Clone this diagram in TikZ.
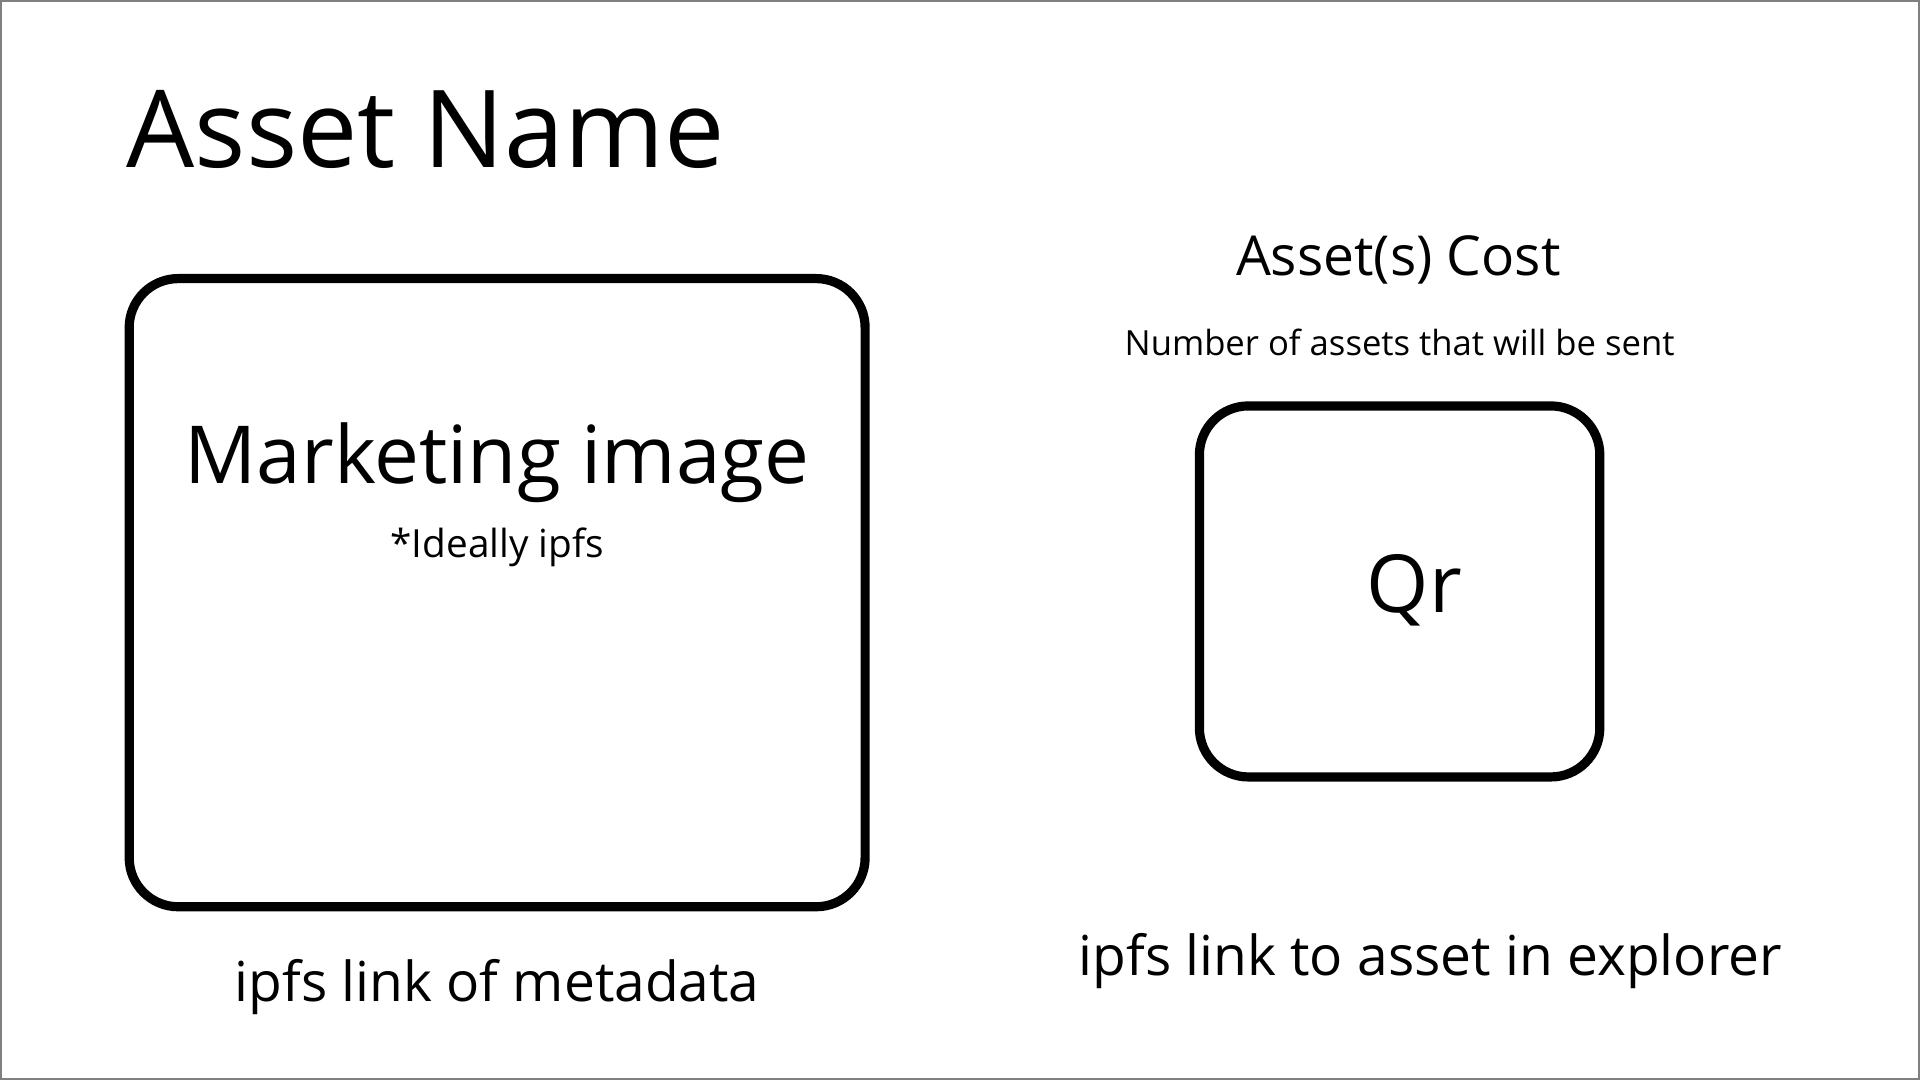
\documentclass[tikz,border=0pt]{standalone}
\usepackage{fontspec}
\setmainfont{Open Sans}
\usepackage{tikz}

\begin{document}
\begin{tikzpicture}[
    card/.style={draw, line width=0.75mm, rounded corners=4mm, inner sep=0pt},
    huge/.style={font=\fontsize{25}{30}\selectfont, anchor=base west},
    big/.style={font=\fontsize{18.6}{22}\selectfont, anchor=base},
    mid/.style={font=\fontsize{12.8}{15}\selectfont, anchor=base},
    small/.style={font=\fontsize{9}{11}\selectfont, anchor=base},
    tiny/.style={font=\fontsize{8.05}{10}\selectfont, anchor=base}
  ]
      \draw[gray, line width=0.4pt] (0.007,0.007) rectangle (15.673,8.813);
      \useasboundingbox (0,0) rectangle (15.68,8.82);

      \node[huge] (name) at (0.91,7.45) {Asset Name};

      \node[card, minimum width=6.01cm, minimum height=5.13cm] (img) at (4.06,3.98) {};
      \node[big] (imglabel) at (4.06,4.87) {Marketing image};
      \node[small] (imgnote) at (4.06,4.27) {*Ideally ipfs};
      \node[mid] (metalink) at (4.06,0.64) {ipfs link of metadata};

      \node[mid] (cost) at (11.42,6.57) {Asset(s) Cost};
      \node[tiny] (costnote) at (11.43,5.92) {Number of assets that will be sent};

      \node[card, minimum width=3.27cm, minimum height=3.03cm] (qr) at (11.43,3.99) {};
      \node[big] (qrlabel) at (11.55,3.82) {Qr};
      \node[mid] (explorer) at (11.68,0.85) {ipfs link to asset in explorer};
    \end{tikzpicture}
\end{document}
